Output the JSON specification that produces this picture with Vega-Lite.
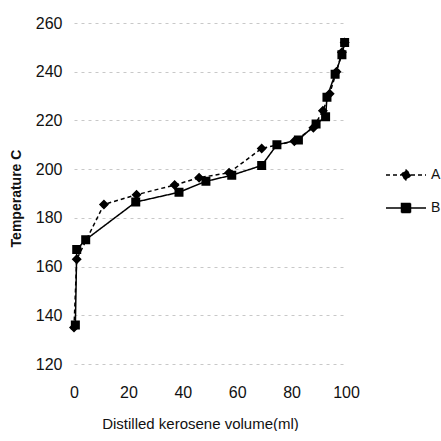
{
  "$schema": "https://vega.github.io/schema/vega-lite/v6.json",
  "width": 272,
  "height": 341,
  "padding": {"left": 9, "top": 15, "right": 0, "bottom": 0},
  "background": "white",
  "config": {
    "view": {"stroke": null},
    "font": "Liberation Sans",
    "axis": {"domain": false, "ticks": false, "grid": true, "labelFlush": false, "gridColor": "#c8c8c8", "gridDash": [3, 4], "gridWidth": 1, "labelFont": "Liberation Sans", "labelFontSize": 16, "labelColor": "#111", "titleFont": "Liberation Sans", "titleFontSize": 15, "titleFontWeight": "normal", "titleColor": "#111"},
    "legend": {"orient": "none", "legendX": 325, "legendY": 145, "title": null, "labelFontSize": 14, "labelFont": "Liberation Sans", "labelColor": "#111", "rowPadding": 17, "symbolSize": 100, "labelOffset": 18, "symbolFillColor": "black", "symbolStrokeColor": "black", "symbolStrokeWidth": 1.5}
  },
  "data": {"values": [
    {"series": "A", "vol": 0, "temp": 135},
    {"series": "A", "vol": 1, "temp": 163},
    {"series": "A", "vol": 11, "temp": 185.5},
    {"series": "A", "vol": 23, "temp": 189.5},
    {"series": "A", "vol": 37, "temp": 193.5},
    {"series": "A", "vol": 46, "temp": 196.5},
    {"series": "A", "vol": 57, "temp": 198.5},
    {"series": "A", "vol": 69, "temp": 208.5},
    {"series": "A", "vol": 81, "temp": 211.5},
    {"series": "A", "vol": 88, "temp": 217},
    {"series": "A", "vol": 91.5, "temp": 224},
    {"series": "A", "vol": 94, "temp": 231},
    {"series": "A", "vol": 96.5, "temp": 240},
    {"series": "A", "vol": 98.5, "temp": 248},
    {"series": "A", "vol": 99.5, "temp": 252},
    {"series": "B", "vol": 0.5, "temp": 136},
    {"series": "B", "vol": 1, "temp": 167},
    {"series": "B", "vol": 4.3, "temp": 171},
    {"series": "B", "vol": 22.7, "temp": 186.5},
    {"series": "B", "vol": 38.6, "temp": 190.5},
    {"series": "B", "vol": 48.5, "temp": 195},
    {"series": "B", "vol": 58, "temp": 197.5},
    {"series": "B", "vol": 69, "temp": 201.5},
    {"series": "B", "vol": 74.6, "temp": 210},
    {"series": "B", "vol": 82.5, "temp": 212},
    {"series": "B", "vol": 89, "temp": 218.5},
    {"series": "B", "vol": 92.5, "temp": 221.5},
    {"series": "B", "vol": 93, "temp": 229.5},
    {"series": "B", "vol": 96, "temp": 239},
    {"series": "B", "vol": 98.5, "temp": 247},
    {"series": "B", "vol": 99.5, "temp": 252}
  ]},
  "encoding": {
    "x": {"field": "vol", "type": "quantitative", "scale": {"domain": [0, 100], "nice": false}, "axis": {"values": [0, 20, 40, 60, 80, 100], "labelPadding": 20, "title": "Distilled kerosene volume(ml)", "titlePadding": 16, "titleX": 126, "grid": false}},
    "y": {"field": "temp", "type": "quantitative", "scale": {"domain": [120, 260], "nice": false}, "axis": {"values": [120, 140, 160, 180, 200, 220, 240, 260], "labelPadding": 12, "title": "Temperature C", "titlePadding": 12, "titleFontWeight": "bold", "titleFontSize": 14, "titleY": 175}}
  },
  "layer": [
    {
      "mark": {"type": "line", "color": "black", "strokeWidth": 1.5},
      "encoding": {
        "strokeDash": {"field": "series", "type": "nominal", "scale": {"domain": ["A", "B"], "range": [[4, 3], [1, 0]]},
          "legend": {"encode": {"symbols": {
            "enter": {"fill": {"value": "#000"}, "fillOpacity": {"value": 1}},
            "update": {"stroke": {"value": "black"}, "strokeWidth": {"value": 1.5}, "fill": {"value": "#000"}, "fillOpacity": {"value": 1}, "strokeOpacity": {"value": 1}, "opacity": {"value": 1}}}}}}
      }
    },
    {
      "mark": {"type": "point", "filled": true, "color": "black", "opacity": 1, "size": 100},
      "encoding": {
        "shape": {"field": "series", "type": "nominal", "scale": {"domain": ["A", "B"], "range": ["M-4,0H-1M0,-1L1,0L0,1L-1,0ZM1,0H4", "M-4,0H-0.9M-0.9,-0.9H0.9V0.9H-0.9ZM0.9,0H4"]},
          "legend": {"encode": {"symbols": {
            "enter": {"fill": {"value": "#000"}, "fillOpacity": {"value": 1}},
            "update": {"stroke": {"value": "black"}, "strokeWidth": {"value": 1.5}, "fill": {"value": "#000"}, "fillOpacity": {"value": 1}, "strokeOpacity": {"value": 1}, "opacity": {"value": 1}}}}}}
      }
    }
  ]
}
